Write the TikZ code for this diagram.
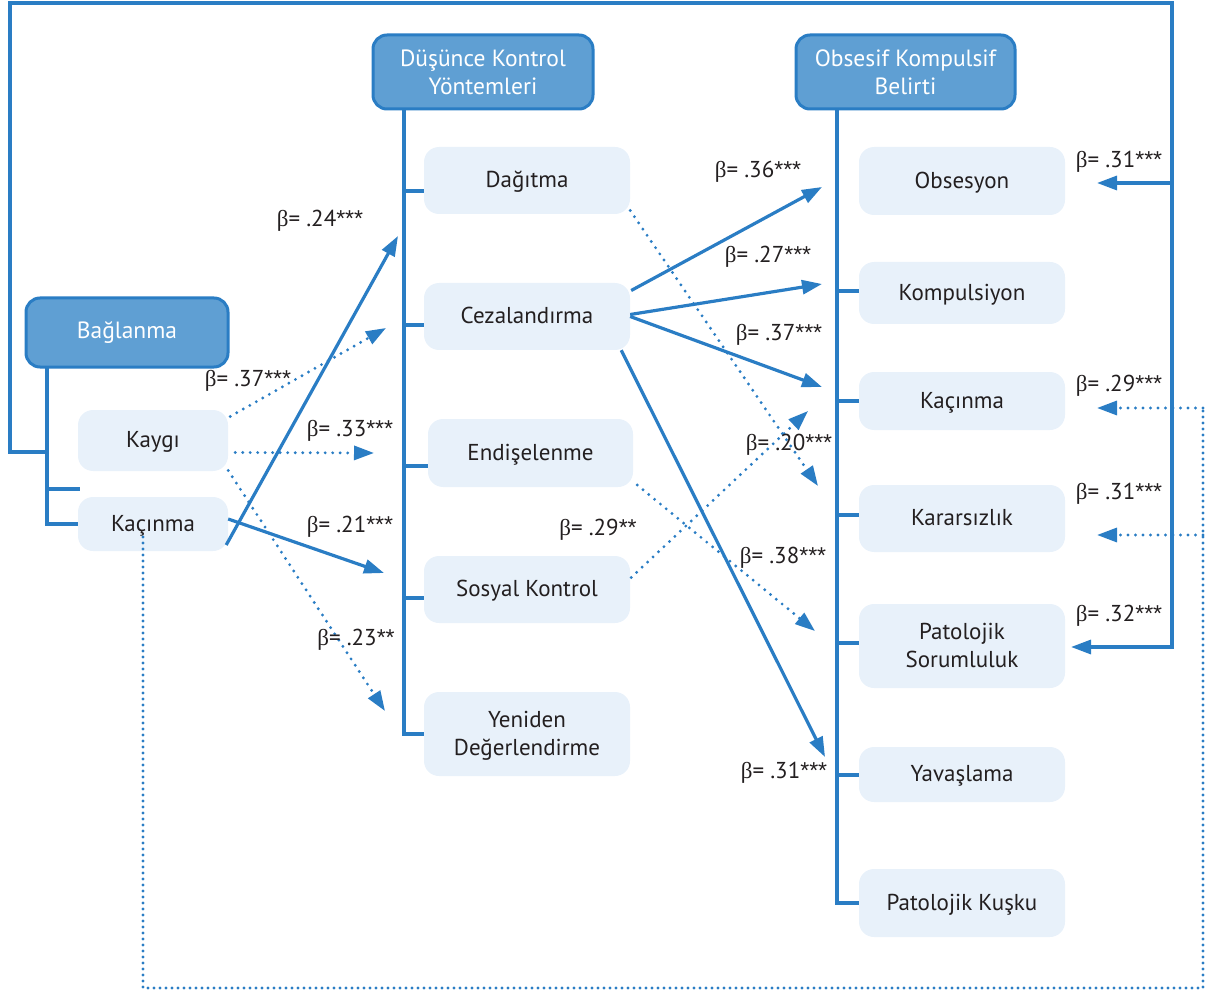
\documentclass[tikz,border=0pt]{standalone}
\usepackage{fontspec}
\setmainfont{PT Sans}
\newfontfamily\grkfont{Liberation Serif}
\newfontfamily\astfont{Liberation Sans}
\usetikzlibrary{arrows.meta}
\definecolor{lnblue}{HTML}{2A7DC4}
\definecolor{hdfill}{HTML}{5F9FD3}
\definecolor{ltfill}{HTML}{E8F1FA}
\definecolor{txtc}{HTML}{231F20}
\newcommand{\betaSym}{{\grkfont β}}
\newcommand{\astS}[1]{{\astfont #1}}
\begin{document}
\begin{tikzpicture}[x=1pt,y=-1pt,
  hdbox/.style={draw=lnblue,line width=3pt,fill=hdfill,rounded corners=14pt,text=white,align=center,font=\fontsize{23.5}{28}\selectfont,inner sep=0pt},
  itbox/.style={fill=ltfill,rounded corners=15pt,text=txtc,align=center,font=\fontsize{23}{28}\selectfont,inner sep=0pt,minimum width=206pt,text depth=2pt},
  tree/.style={draw=lnblue,line width=3.2pt},
  arr/.style={draw=lnblue,line width=3.2pt,-{Triangle[length=20pt,width=14pt]}},
  darr/.style={draw=lnblue,line width=3.2pt,line cap=round,dash pattern=on 0pt off 7.5pt,-{Triangle[length=20pt,width=14pt,line cap=butt]}},
  dline/.style={draw=lnblue,line width=3.2pt,line cap=round,dash pattern=on 0pt off 6pt},
  lab/.style={text=txtc,font=\fontsize{23}{26}\selectfont,inner sep=0pt}
]
\useasboundingbox (0,0) rectangle (1205,992);

% header boxes
\node[hdbox,minimum width=202pt,minimum height=69pt] (bag) at (127,332.5) {Bağlanma};
\node[hdbox,minimum width=220pt,minimum height=74pt] (dkt) at (483,72) {Düşünce Kontrol\\Yöntemleri};
\node[hdbox,minimum width=219pt,minimum height=74pt] (okb) at (905.5,72) {Obsesif Kompulsif\\Belirti};

% item boxes
\node[itbox,minimum width=150pt,minimum height=61pt] (kaygi) at (153,440.5) {Kaygı};
\node[itbox,minimum width=150pt,minimum height=54pt] (kacL) at (153,524) {Kaçınma};
\node[itbox,minimum height=67pt] (dag) at (527,180.5) {Dağıtma};
\node[itbox,minimum height=67pt] (ceza) at (527,316.5) {Cezalandırma};
\node[itbox,minimum width=205pt,minimum height=68pt] (endi) at (530.5,453) {Endişelenme};
\node[itbox,minimum height=67pt] (sos) at (527,589.5) {Sosyal Kontrol};
\node[itbox,minimum height=84pt] (yen) at (527,734) {Yeniden\\Değerlendirme};
\node[itbox,minimum height=68pt] (obs) at (962,181) {Obsesyon};
\node[itbox,minimum height=62pt] (komp) at (962,293) {Kompulsiyon};
\node[itbox,minimum height=58pt] (kacR) at (962,401) {Kaçınma};
\node[itbox,minimum height=67pt] (karar) at (962,518.5) {Kararsızlık};
\node[itbox,minimum height=84pt] (pato) at (962,646) {Patolojik\\Sorumluluk};
\node[itbox,minimum height=55pt] (yav) at (962,774.5) {Yavaşlama};
\node[itbox,minimum height=68pt] (kusku) at (962,903) {Patolojik Kuşku};

% Bağlanma tree
\draw[tree] (47,367) |- (kacL.west);
\draw[tree] (47,489) -- (80,489);

% Düşünce tree
\draw[tree] (404,109) |- (yen.west);
\draw[tree] (404,191) -- (424,191);
\draw[tree] (404,325) -- (424,325);
\draw[tree] (404,466) -- (428,466);
\draw[tree] (404,598) -- (424,598);

% OKB tree
\draw[tree] (837,109) |- (kusku.west);
\draw[tree] (837,291) -- (859,291);
\draw[tree] (837,401) -- (859,401);
\draw[tree] (837,515) -- (859,515);
\draw[tree] (837,643) -- (859,643);
\draw[tree] (837,775) -- (859,775);

% coordinates for arrow tips
\coordinate (tDkt) at (398,236);
\coordinate (tK21) at (384,573);
\coordinate (tObs) at (822,187);
\coordinate (tKomp) at (822,284);
\coordinate (tKac) at (822,387);
\coordinate (tYav) at (825,757);
\coordinate (tK37) at (386,328);
\coordinate (tK33) at (374,453);
\coordinate (tK23) at (385,711);
\coordinate (tDag) at (818,486);
\coordinate (tSos) at (808,411);
\coordinate (tEnd) at (815,631);
\coordinate (tROb) at (1097,183);
\coordinate (tRPa) at (1071,647);
\coordinate (tRKa) at (1097,408);
\coordinate (tRKr) at (1097,535);

% outer solid line
\draw[arr] (49,452) -- (10,452) -- (10,3) -- (1172,3) |- (tRPa);
\draw[arr] (1172,183) -- (tROb);

% outer dotted line
\draw[dline] (143,537) -- (143,988) -- (1203,988) -- (1203,408);
\draw[darr] (1203,408) -- (tRKa);
\draw[darr] (1203,535) -- (tRKr);

% solid arrows
\draw[arr] ([xshift=-2pt,yshift=-21pt]kacL.east) -- (tDkt);
\draw[arr] ([yshift=5pt]kacL.east) -- (tK21);
\draw[arr] ([xshift=1pt,yshift=26pt]ceza.east) -- (tObs);
\draw[arr] ([yshift=2pt]ceza.east) -- (tKomp);
\draw[arr] ([yshift=0pt]ceza.east) -- (tKac);
\draw[arr] ([xshift=-9pt]ceza.south east) -- (tYav);

% dotted arrows
\draw[darr] ([xshift=2pt,yshift=24pt]kaygi.east) -- (tK37);
\draw[darr] ([xshift=7pt,yshift=-12pt]kaygi.east) -- (tK33);
\draw[darr] ([yshift=-30pt]kaygi.east) -- (tK23);
\draw[darr] ([yshift=-30pt]dag.east) -- (tDag);
\draw[darr] ([xshift=1pt,yshift=12pt]sos.east) -- (tSos);
\draw[darr] ([xshift=4pt,yshift=-32pt]endi.east) -- (tEnd);

% labels
\node[lab] (l24) at (320,221) {\betaSym= .24\astS{***}};
\node[lab] (l37a) at (248,381) {\betaSym= .37\astS{***}};
\node[lab] (l33) at (350,431) {\betaSym= .33\astS{***}};
\node[lab] (l21) at (350,527) {\betaSym= .21\astS{***}};
\node[lab] (l23) at (356,640) {\betaSym= .23\astS{**}};
\node[lab] (l36) at (758,172) {\betaSym= .36\astS{***}};
\node[lab] (l27) at (768,257) {\betaSym= .27\astS{***}};
\node[lab] (l37b) at (779,335) {\betaSym= .37\astS{***}};
\node[lab] (l20) at (789,445) {\betaSym= .20\astS{***}};
\node[lab] (l29a) at (598,530) {\betaSym= .29\astS{**}};
\node[lab] (l38) at (783,558) {\betaSym= .38\astS{***}};
\node[lab] (l31b) at (784,773) {\betaSym= .31\astS{***}};
\node[lab] (l31a) at (1119,162) {\betaSym= .31\astS{***}};
\node[lab] (l29b) at (1119,386) {\betaSym= .29\astS{***}};
\node[lab] (l31c) at (1119,494) {\betaSym= .31\astS{***}};
\node[lab] (l32) at (1119,616) {\betaSym= .32\astS{***}};
\end{tikzpicture}
\end{document}
